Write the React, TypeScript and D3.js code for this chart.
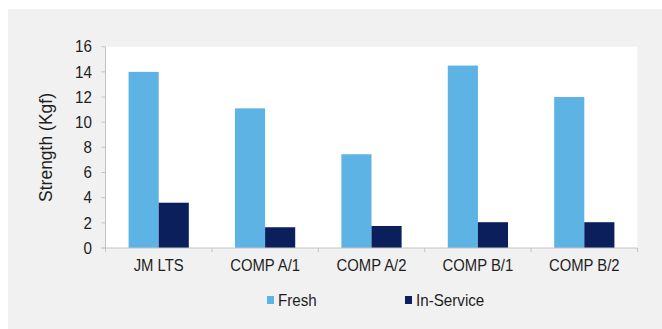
import React from "react";
import * as d3 from "d3";

const categories = ["JM LTS", "COMP A/1", "COMP A/2", "COMP B/1", "COMP B/2"];
const freshValues = [14, 11.1, 7.45, 14.5, 12];
const inServiceValues = [3.6, 1.65, 1.75, 2.05, 2.05];
const seriesNames = ["Fresh", "In-Service"];
const yTicks = [0, 2, 4, 6, 8, 10, 12, 14, 16];

const W = 662;
const H = 329;
const plot = { left: 105.5, right: 637.5, top: 46.7, bottom: 248 };
const colors = ["#5db3e3", "#0b1f5c"];
const font = "'Liberation Sans', Arial, sans-serif";
const textColor = "#1e1e1e";

export default function App() {
  const x = d3.scaleBand<string>().domain(categories).range([plot.left, plot.right]).padding(0);
  const y = d3.scaleLinear().domain([0, 16]).range([plot.bottom, plot.top]);
  const barW = x.bandwidth() * 0.283;
  const series = [freshValues, inServiceValues];

  return (
    <div style={{ position: "absolute", left: 0, top: 0 }}>
      <svg width={W} height={H} style={{ display: "block" }}>
        <rect x={0} y={0} width={W} height={H} fill="#ffffff" />
        <rect x={8} y={9} width={W - 8} height={H - 9} fill="#f1f1f1" />
        <rect
          x={plot.left}
          y={plot.top}
          width={plot.right - plot.left}
          height={plot.bottom - plot.top}
          fill="#ffffff"
        />
        {categories.map((c, i) => {
          const cx = (x(c) as number) + x.bandwidth() / 2;
          return series.map((vals, s) => (
            <rect
              key={c + s}
              x={cx - barW + s * barW}
              y={y(vals[i])}
              width={barW}
              height={plot.bottom - y(vals[i])}
              fill={colors[s]}
            />
          ));
        })}
        {/* y axis */}
        <line x1={plot.left} x2={plot.left} y1={plot.top} y2={plot.bottom} stroke="#c4c4c4" strokeWidth={1} />
        {yTicks.map((t) => (
          <g key={t}>
            <line x1={plot.left - 4} x2={plot.left} y1={y(t)} y2={y(t)} stroke="#c4c4c4" strokeWidth={1} />
            <text
              transform={`translate(92,${y(t)}) scale(0.95,1)`}
              dy="0.36em"
              textAnchor="end"
              fontFamily={font}
              fontSize={16}
              fill={textColor}
            >
              {t}
            </text>
          </g>
        ))}
        {/* x axis */}
        <line x1={plot.left - 4} x2={plot.right} y1={plot.bottom} y2={plot.bottom} stroke="#c4c4c4" strokeWidth={1} />
        {categories.concat(["__end"]).map((c, i) => {
          const tx = plot.left + i * x.bandwidth();
          return (
            <line key={"t" + i} x1={tx} x2={tx} y1={plot.bottom} y2={plot.bottom + 4} stroke="#c4c4c4" strokeWidth={1} />
          );
        })}
        {categories.map((c) => (
          <text
            key={"l" + c}
            transform={`translate(${(x(c) as number) + x.bandwidth() / 2},270.5) scale(0.9,1)`}
            textAnchor="middle"
            fontFamily={font}
            fontSize={16.5}
            fill={textColor}
          >
            {c}
          </text>
        ))}
        <text
          transform={`translate(52,147.5) rotate(-90)`}
          textAnchor="middle"
          fontFamily={font}
          fontSize={17.5}
          fill={textColor}
        >
          Strength (Kgf)
        </text>
        {/* legend */}
        {seriesNames.map((n, i) => {
          const lx = i === 0 ? 267 : 405;
          return (
            <g key={n}>
              <rect x={lx} y={296} width={7} height={8} fill={colors[i]} />
              <text
                transform={`translate(${lx + 11},306) scale(0.92,1)`}
                fontFamily={font}
                fontSize={16.5}
                fill={textColor}
              >
                {n}
              </text>
            </g>
          );
        })}
      </svg>
    </div>
  );
}
